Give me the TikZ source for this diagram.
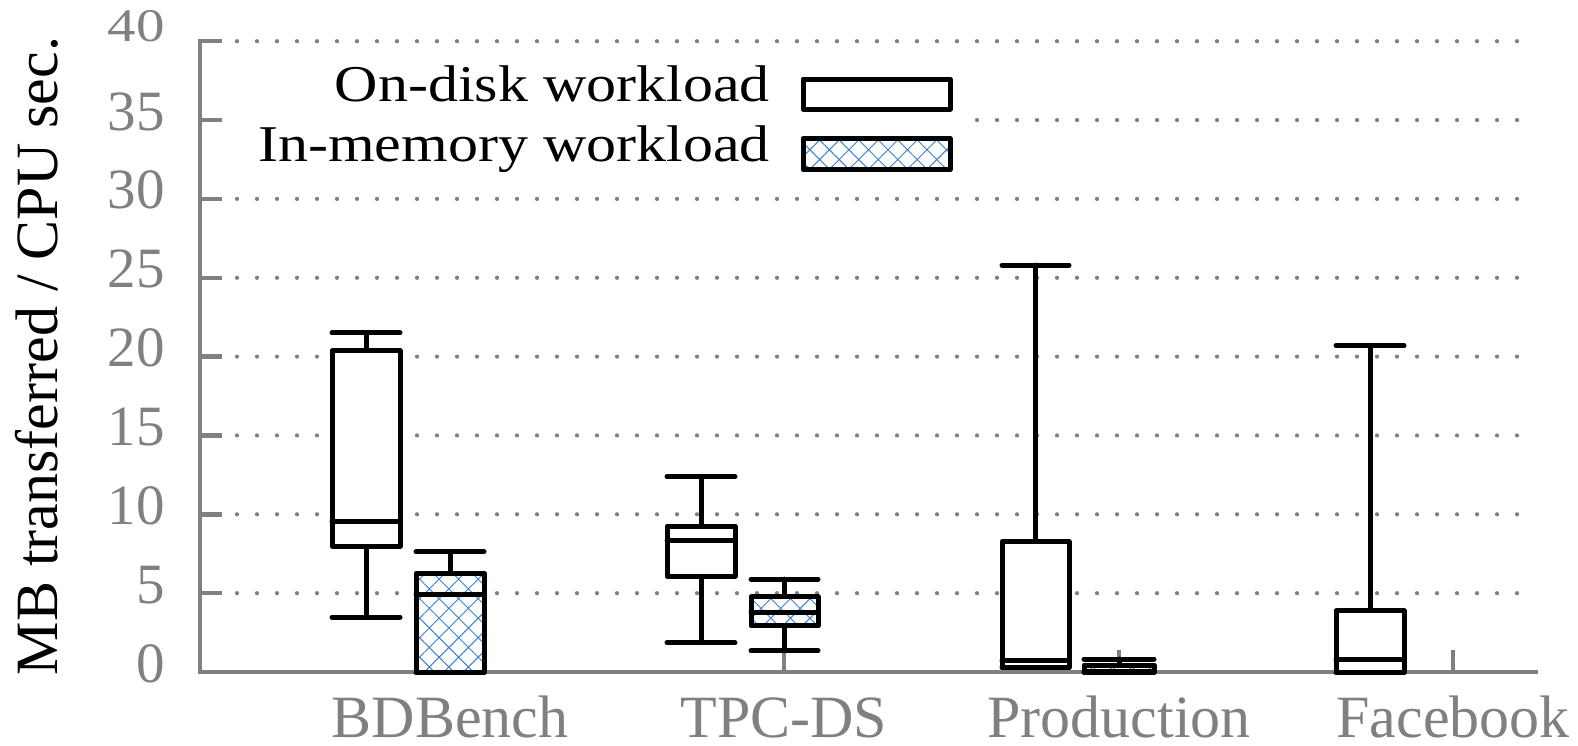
\documentclass[tikz,border=0pt]{standalone}
\usepackage{graphicx}
\usepackage{fontspec}
\setmainfont{Liberation Serif}
\usetikzlibrary{patterns.meta}
\definecolor{axgray}{RGB}{128,128,128}
\definecolor{hatchblue}{RGB}{60,130,210}
\tikzset{
  axisline/.style={draw=axgray,line width=4.5pt},
  gridline/.style={draw=axgray,line width=4.2pt,line cap=round,dash pattern=on 0pt off 20pt},
  bx/.style={draw=black,line width=5pt,line join=round},
  wh/.style={draw=black,line width=5pt,line cap=round},
  plainfill/.style={fill=white},
  hatchfill/.style={pattern={Hatch[angle=45,distance=13.8pt,line width=1pt]},pattern color=hatchblue},
  ticklab/.style={text=axgray,font=\fontsize{57}{57}\selectfont,anchor=base east,inner sep=0pt},
  xlab/.style={text=axgray,font=\fontsize{60}{60}\selectfont,anchor=base,inner sep=0pt},
  legtext/.style={text=black,font=\fontsize{60}{60}\selectfont,anchor=base east,inner sep=0pt},
}
% #1 xleft #2 xright #3 lower whisker #4 q1 #5 median #6 q3 #7 upper whisker #8 fill style
\newcommand\bplot[8]{%
  \pgfmathsetmacro\xc{(#1+#2)/2}%
  \draw[wh] (\xc,#3) -- (\xc,#7);
  \draw[wh] (#1,#3) -- (#2,#3);
  \draw[wh] (#1,#7) -- (#2,#7);
  \fill[white] (#1,#4) rectangle (#2,#6);
  \fill[#8] (#1,#4) rectangle (#2,#6);
  \draw[bx] (#1,#4) rectangle (#2,#6);
  \draw[wh] (#1,#5) -- (#2,#5);
}
\begin{document}
\begin{tikzpicture}[x=1pt,y=-1pt]
\useasboundingbox (0,0) rectangle (1578,745);
\fill[white] (0,0) rectangle (1578,745);

% data scope: y in data units (upwards)
\begin{scope}[shift={(0,672)},y=15.77pt]
  \foreach \v in {5,10,...,40}{
    \draw[gridline] (237,\v) -- (1532,\v);
  }
\end{scope}

% legend background
\fill[white] (225,62) rectangle (975,180);

\begin{scope}[shift={(0,672)},y=15.77pt]
  % axes
  \draw[axisline] (222,40) -- (200,40) -- (200,0) -- (1538,0);
  \foreach \v in {5,10,...,35}{
    \draw[axisline] (200,\v) -- (222,\v);
  }
  \foreach \xx in {450,784,1119,1453}{
    \draw[axisline] (\xx,0) -- (\xx,1.4);
  }
  % tick labels
  \foreach \v in {0,5,...,35}{
    \node[ticklab,yshift=-10pt] (t\v) at (165,\v) {\v};
  }
  % box plots
  \bplot{332}{400}{3.48}{7.98}{9.53}{20.36}{21.5}{plainfill}
  \bplot{416}{484}{0}{0}{4.94}{6.27}{7.62}{hatchfill}
  \bplot{667}{735}{1.86}{6.08}{8.32}{9.25}{12.38}{plainfill}
  \bplot{751}{818}{1.35}{2.92}{3.80}{4.77}{5.89}{hatchfill}
  \bplot{1002}{1069}{0.3}{0.3}{0.75}{8.26}{25.8}{plainfill}
  \bplot{1084}{1154}{0}{0}{0.05}{0.44}{0.82}{hatchfill}
  \bplot{1336}{1404}{0}{0}{0.8}{3.87}{20.7}{plainfill}
\end{scope}

\node[ticklab] (t40) at (165,41.7) {\scalebox{1}[0.82]{40}};

% y axis title
\node[rotate=90,anchor=base,font=\fontsize{60}{60}\selectfont,inner sep=0pt] (ylab) at (57,356) {MB transferred / CPU sec.};

% x labels
\node[xlab] (xb) at (450,737) {BDBench};
\node[xlab] (xt) at (784,737) {TPC-DS};
\node[xlab] (xp) at (1119,737) {Production};
\node[xlab] (xf) at (1453,737) {Facebook};

% legend
\node[legtext] (l1) at (770,101.7) {\scalebox{1}[0.86]{On-disk workload}};
\node[legtext] (l2) at (770,161) {\scalebox{1}[0.86]{In-memory workload}};
\fill[white] (803,79) rectangle (950,109);
\draw[bx] (803,79) rectangle (950,109);
\fill[white] (803,138.5) rectangle (950,169.5);
\fill[hatchfill] (803,138.5) rectangle (950,169.5);
\draw[bx] (803,138.5) rectangle (950,169.5);
\end{tikzpicture}
\end{document}
